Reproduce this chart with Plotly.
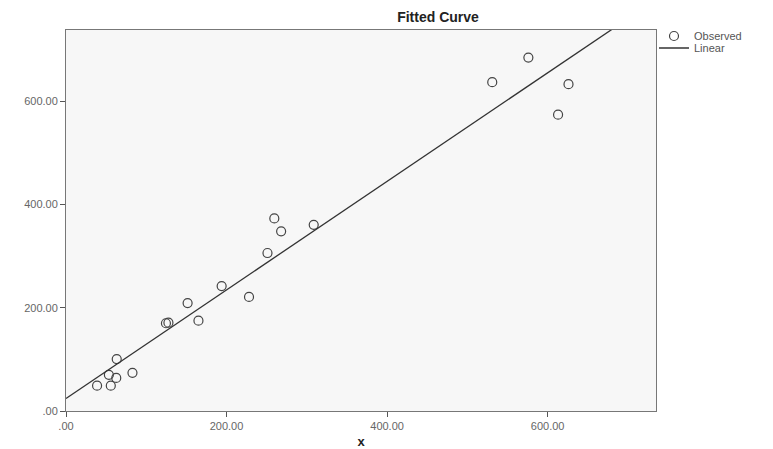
import numpy as np
import plotly.graph_objects as go

x_obs = [38.7, 55.8, 53.4, 62.6, 63.2, 82.8, 124.5, 127.6, 151.5, 165.0,
         193.9, 228.0, 251.0, 259.5, 268.0, 308.6, 531.0, 576.0, 613.0, 626.0]
y_obs = [49, 49, 70, 64, 100.6, 74, 170, 171, 209, 175,
         242, 221, 306, 373, 348, 360.6, 637, 684.5, 574, 633]

tick_vals = [0, 200, 400, 600]
tick_text = [".00", "200.00", "400.00", "600.00"]

slope, intercept = np.polyfit(x_obs, y_obs, 1)
x_line = np.array([0, 735])
y_line = intercept + slope * x_line

L, R, T, B = 66, 656, 30, 411
W, H = 773, 449

def px(p):
    return (p - L) / (R - L)

def py(p):
    return (B - p) / (B - T)

fig = go.Figure()
fig.add_trace(go.Scatter(
    x=x_obs, y=y_obs, mode="markers", name="Observed", legend="legend",
    marker=dict(symbol="circle-open", size=9, color="#444444", line=dict(width=1.2)),
))
fig.add_trace(go.Scatter(
    x=x_line, y=y_line, mode="lines", name="Linear", legend="legend2",
    line=dict(color="#333333", width=1.3),
))

axis_common = dict(
    tickvals=tick_vals, ticktext=tick_text, ticks="outside", ticklen=5,
    tickcolor="#555555", showgrid=False, zeroline=False, automargin=False,
    showline=True, linecolor="#777777", linewidth=1, mirror=True,
    tickfont=dict(family="Liberation Sans, Arial", size=11, color="#666666"),
)

leg_font = dict(family="Liberation Sans, Arial", size=11, color="#555555")

fig.update_layout(
    width=W, height=H,
    margin=dict(l=L, r=W - R, t=T, b=H - B),
    paper_bgcolor="white", plot_bgcolor="#f7f7f7",
    title=dict(text="<b>Fitted Curve</b>", x=438 / W, xanchor="center",
               y=1 - 17 / H, yanchor="middle",
               font=dict(family="Liberation Sans, Arial", size=14, color="#222222")),
    xaxis=dict(range=[0, 735], title=dict(text="<b>x</b>", standoff=6,
               font=dict(family="Liberation Sans, Arial", size=13, color="#222222")),
               **axis_common),
    yaxis=dict(range=[0, 738], **axis_common),
    showlegend=True,
    legend=dict(x=px(654), y=py(36), xanchor="left", yanchor="middle",
                font=leg_font, bgcolor="rgba(0,0,0,0)", itemwidth=30,
                borderwidth=0),
    legend2=dict(x=px(654), y=py(48), xanchor="left", yanchor="middle",
                 font=leg_font, bgcolor="rgba(0,0,0,0)", itemwidth=30,
                 borderwidth=0),
)

fig.write_html("out.html")
